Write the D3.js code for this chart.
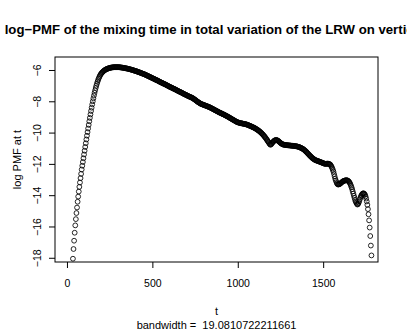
<!DOCTYPE html>
<html>
<head>
<meta charset="utf-8">
<script src="https://cdn.jsdelivr.net/npm/d3@7"></script>
<style>
  body { margin: 0; background: #fff; }
  svg { display: block; }
  text { font-family: "Liberation Sans", Arial, Helvetica, sans-serif; fill: #000; }
</style>
</head>
<body>
<div id="chart"></div>
<script>
// density grid (512 points, like R's density())
var gridFrom = 35;
var gridTo = 1782.6;

// log PMF at t
var logPmf = [
 -18.06,-17.44,-16.91,-16.40,-15.93,-15.53,-15.14,-14.79,-14.42,-14.09,
 -13.77,-13.47,-13.19,-12.91,-12.64,-12.36,-12.12,-11.88,-11.64,-11.40,
 -11.16,-10.92,-10.68,-10.44,-10.20,-9.97,-9.74,-9.51,-9.28,-9.06,
 -8.84,-8.62,-8.41,-8.20,-8.00,-7.81,-7.63,-7.46,-7.30,-7.15,
 -7.01,-6.88,-6.76,-6.65,-6.55,-6.46,-6.38,-6.31,-6.25,-6.20,
 -6.16,-6.12,-6.08,-6.05,-6.02,-6.00,-5.97,-5.95,-5.94,-5.92,
 -5.91,-5.89,-5.88,-5.87,-5.86,-5.85,-5.84,-5.84,-5.83,-5.83,
 -5.82,-5.82,-5.82,-5.82,-5.82,-5.82,-5.82,-5.82,-5.82,-5.82,
 -5.83,-5.83,-5.84,-5.84,-5.85,-5.85,-5.86,-5.87,-5.87,-5.88,
 -5.89,-5.90,-5.90,-5.91,-5.92,-5.93,-5.94,-5.95,-5.96,-5.97,
 -5.98,-5.99,-6.00,-6.01,-6.03,-6.04,-6.05,-6.06,-6.07,-6.09,
 -6.10,-6.11,-6.13,-6.14,-6.16,-6.17,-6.18,-6.20,-6.21,-6.23,
 -6.24,-6.26,-6.27,-6.29,-6.30,-6.32,-6.34,-6.36,-6.37,-6.39,
 -6.41,-6.43,-6.45,-6.46,-6.48,-6.50,-6.52,-6.54,-6.55,-6.57,
 -6.59,-6.61,-6.63,-6.64,-6.66,-6.68,-6.70,-6.72,-6.74,-6.76,
 -6.78,-6.80,-6.81,-6.83,-6.85,-6.87,-6.89,-6.90,-6.92,-6.94,
 -6.96,-6.98,-7.00,-7.02,-7.04,-7.06,-7.08,-7.10,-7.11,-7.13,
 -7.15,-7.17,-7.19,-7.20,-7.22,-7.24,-7.26,-7.28,-7.30,-7.32,
 -7.34,-7.36,-7.38,-7.39,-7.41,-7.43,-7.45,-7.47,-7.49,-7.51,
 -7.53,-7.55,-7.57,-7.58,-7.60,-7.62,-7.64,-7.66,-7.68,-7.69,
 -7.71,-7.73,-7.74,-7.76,-7.78,-7.80,-7.82,-7.85,-7.88,-7.90,
 -7.93,-7.96,-7.99,-8.02,-8.04,-8.07,-8.09,-8.12,-8.14,-8.16,
 -8.18,-8.19,-8.21,-8.22,-8.24,-8.25,-8.26,-8.28,-8.29,-8.31,
 -8.32,-8.34,-8.35,-8.37,-8.38,-8.40,-8.42,-8.44,-8.46,-8.48,
 -8.50,-8.52,-8.54,-8.56,-8.58,-8.60,-8.62,-8.64,-8.66,-8.68,
 -8.70,-8.72,-8.74,-8.75,-8.77,-8.79,-8.81,-8.83,-8.84,-8.86,
 -8.88,-8.90,-8.92,-8.94,-8.96,-8.98,-9.00,-9.02,-9.05,-9.07,
 -9.09,-9.11,-9.13,-9.16,-9.18,-9.20,-9.22,-9.24,-9.27,-9.29,
 -9.31,-9.33,-9.34,-9.35,-9.37,-9.38,-9.39,-9.40,-9.40,-9.41,
 -9.42,-9.43,-9.44,-9.44,-9.45,-9.46,-9.47,-9.48,-9.49,-9.51,
 -9.52,-9.54,-9.55,-9.57,-9.58,-9.60,-9.62,-9.64,-9.65,-9.67,
 -9.69,-9.71,-9.73,-9.75,-9.78,-9.80,-9.83,-9.85,-9.88,-9.91,
 -9.94,-9.97,-10.01,-10.04,-10.08,-10.12,-10.16,-10.21,-10.25,-10.30,
 -10.35,-10.40,-10.46,-10.51,-10.57,-10.62,-10.68,-10.74,-10.78,-10.76,
 -10.72,-10.67,-10.62,-10.58,-10.54,-10.51,-10.49,-10.48,-10.47,-10.48,
 -10.50,-10.52,-10.55,-10.58,-10.62,-10.65,-10.68,-10.71,-10.73,-10.75,
 -10.77,-10.77,-10.78,-10.79,-10.79,-10.80,-10.80,-10.81,-10.81,-10.82,
 -10.82,-10.82,-10.83,-10.83,-10.84,-10.84,-10.84,-10.85,-10.85,-10.86,
 -10.86,-10.87,-10.87,-10.88,-10.89,-10.90,-10.91,-10.92,-10.94,-10.95,
 -10.97,-10.99,-11.01,-11.03,-11.05,-11.08,-11.11,-11.14,-11.18,-11.21,
 -11.25,-11.29,-11.33,-11.37,-11.41,-11.45,-11.49,-11.52,-11.56,-11.60,
 -11.63,-11.66,-11.69,-11.71,-11.74,-11.76,-11.77,-11.79,-11.80,-11.82,
 -11.83,-11.84,-11.86,-11.87,-11.89,-11.90,-11.92,-11.93,-11.95,-11.96,
 -11.98,-11.99,-12.00,-12.00,-11.99,-11.99,-11.98,-11.99,-12.00,-12.01,
 -12.03,-12.07,-12.13,-12.20,-12.29,-12.39,-12.50,-12.65,-12.80,-12.95,
 -13.06,-13.16,-13.25,-13.30,-13.32,-13.31,-13.30,-13.28,-13.25,-13.21,
 -13.18,-13.15,-13.12,-13.10,-13.08,-13.07,-13.06,-13.05,-13.04,-13.05,
 -13.06,-13.08,-13.12,-13.16,-13.22,-13.30,-13.40,-13.50,-13.62,-13.76,
 -13.90,-14.04,-14.17,-14.30,-14.40,-14.48,-14.55,-14.60,-14.57,-14.50,
 -14.40,-14.28,-14.17,-14.07,-14.00,-13.94,-13.90,-13.88,-13.89,-13.92,
 -13.98,-14.08,-14.22,-14.40,-14.62,-14.89,-15.22,-15.61,-16.07,-16.61,
 -17.22,-17.85
];

var xTicks = [0, 500, 1000, 1500];
var yTicks = [-18, -16, -14, -12, -10, -8, -6];

var titleText = "log\u2212PMF of the mixing time in total variation of the LRW on vertices";
var xLabel = "t";
var yLabel = "log PMF at t";
var subText = "bandwidth =  19.0810722211661";

var W = 407, H = 332;
var box = {left: 55, right: 378, top: 57, bottom: 262};

var svg = d3.select("#chart").append("svg")
    .attr("width", W)
    .attr("height", H);

var x = d3.scaleLinear().domain([-70, 1821]).range([box.left, box.right]);
var y = d3.scaleLinear().domain([-18.27, -5.17]).range([box.bottom, box.top]);

var step = (gridTo - gridFrom) / (logPmf.length - 1);
var pts = logPmf.map(function(v, i){
	return {t: gridFrom + i * step, v: v};
});

// points, open circles
svg.append("g")
    .attr("class", "points")
    .selectAll("circle")
    .data(pts)
    .enter()
    .append("circle")
    .attr("cx", function(d){ return x(d.t); })
    .attr("cy", function(d){ return y(d.v); })
    .attr("r", 2.4)
    .attr("fill", "none")
    .attr("stroke", "#000")
    .attr("stroke-width", 0.85);

// box
svg.append("rect")
    .attr("x", box.left)
    .attr("y", box.top)
    .attr("width", box.right - box.left)
    .attr("height", box.bottom - box.top)
    .attr("fill", "none")
    .attr("stroke", "#000")
    .attr("stroke-width", 1);

// x axis
var xAxis = svg.append("g")
    .attr("transform", "translate(0," + box.bottom + ")")
    .call(d3.axisBottom(x).tickValues(xTicks).tickSize(6).tickSizeOuter(0).tickPadding(12)
        .tickFormat(function(d){ return String(d); }));
xAxis.select(".domain").remove();
xAxis.selectAll("text").attr("font-size", "10.5px");
xAxis.selectAll("line").attr("stroke", "#000");

// y axis, labels parallel to axis like R
var yAxis = svg.append("g")
    .attr("transform", "translate(" + box.left + ",0)")
    .call(d3.axisLeft(y).tickValues(yTicks).tickSize(6).tickSizeOuter(0)
        .tickFormat(function(d){ return String(d).replace("-", "\u2212"); }));
yAxis.select(".domain").remove();
yAxis.selectAll("line").attr("stroke", "#000");
yAxis.selectAll("text")
    .attr("x", null).attr("dy", null)
    .attr("text-anchor", "middle")
    .attr("font-size", "10.5px")
    .attr("transform", "translate(-14,0) rotate(-90)")
    .attr("y", 0);

// title, wider than the window like the original
svg.append("text")
    .attr("x", (box.left + box.right) / 2)
    .attr("y", 34)
    .attr("text-anchor", "middle")
    .attr("font-size", "13.2px")
    .attr("font-weight", "bold")
    .text(titleText);

svg.append("text")
    .attr("x", (box.left + box.right) / 2)
    .attr("y", 315)
    .attr("text-anchor", "middle")
    .attr("font-size", "11px")
    .text(xLabel);

svg.append("text")
    .attr("x", (box.left + box.right) / 2)
    .attr("y", 329)
    .attr("text-anchor", "middle")
    .attr("font-size", "11px")
    .style("white-space", "pre")
    .text(subText);

svg.append("text")
    .attr("transform", "translate(21," + (box.top + box.bottom) / 2 + ") rotate(-90)")
    .attr("text-anchor", "middle")
    .attr("font-size", "11px")
    .text(yLabel);
</script>
</body>
</html>
